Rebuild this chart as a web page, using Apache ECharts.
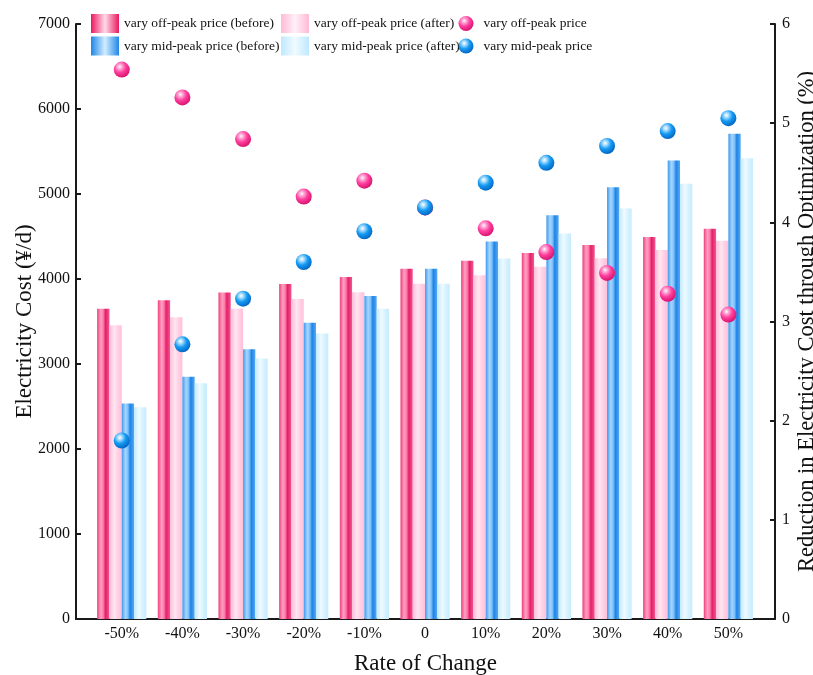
<!DOCTYPE html>
<html>
<head>
<meta charset="utf-8">
<script src="https://cdn.jsdelivr.net/npm/echarts@6/dist/echarts.min.js"></script>
<style>html,body{margin:0;padding:0;background:#fff}#c{width:813px;height:675px}</style>
</head>
<body>
<div id="c"></div>
<script>
var categories = ['-50%','-40%','-30%','-20%','-10%','0','10%','20%','30%','40%','50%'];
var offBefore = [3650,3750,3840,3940,4025,4120,4215,4305,4400,4495,4590];
var offAfter  = [3455,3550,3650,3765,3845,3945,4045,4145,4245,4340,4450];
var midBefore = [2535,2850,3175,3485,3800,4120,4440,4750,5080,5395,5710];
var midAfter  = [2490,2775,3065,3360,3650,3945,4240,4535,4830,5120,5420];
var offReduction = [5.54,5.26,4.84,4.26,4.42,4.15,3.94,3.70,3.49,3.28,3.07];
var midReduction = [1.80,2.77,3.23,3.60,3.91,4.15,4.40,4.60,4.77,4.92,5.05];
var leftTicks = [0,7000,1000];
var rightTicks = [0,6,1];

var NAMES = ['vary off-peak price (before)','vary off-peak price (after)','vary mid-peak price (before)','vary mid-peak price (after)','vary off-peak price','vary mid-peak price'];
var FONT = '"Liberation Serif","Times New Roman",serif';

function lin(stops){
  return {type:'linear',x:0,y:0,x2:1,y2:0,colorStops:stops.map(function(s){return {offset:s[0],color:s[1]};})};
}
function rad(c0,c1,c2){
  return {type:'radial',x:0.38,y:0.32,r:0.68,colorStops:[{offset:0,color:'#ffffff'},{offset:0.18,color:c0},{offset:0.55,color:c1},{offset:1,color:c2}]};
}
var barFill = [
  lin([[0,'#ee3f7c'],[0.3,'#ff9fc2'],[0.5,'#ff7aa8'],[0.68,'#e3206a'],[1,'#f2578f']]),
  lin([[0,'#ffbcd8'],[0.4,'#ffe6f1'],[0.7,'#ffcfe3'],[1,'#ffc0da']]),
  lin([[0,'#3d98f0'],[0.3,'#a6d6ff'],[0.5,'#7cc0fb'],[0.68,'#1e84e6'],[1,'#56a9f2']]),
  lin([[0,'#c4eafe'],[0.4,'#eefaff'],[0.7,'#d6f2ff'],[1,'#c6ebfe']])
];
var legFill = [
  lin([[0,'#e9195e'],[0.5,'#ffdbe9'],[1,'#e9195e']]),
  lin([[0,'#ffb9d7'],[0.5,'#fff0f6'],[1,'#ffb9d7']]),
  lin([[0,'#1f87e8'],[0.5,'#d2edff'],[1,'#1f87e8']]),
  lin([[0,'#bfe8ff'],[0.5,'#f0fbff'],[1,'#bfe8ff']])
];
var pinkBall = rad('#ffb3da','#ff3e9e','#d8156f');
var blueBall = rad('#b5e2ff','#149af3','#0568c4');
var barData = [offBefore, offAfter, midBefore, midAfter];

var series = [];
for (var i = 0; i < 4; i++) {
  series.push({
    name: NAMES[i], type: 'bar', xAxisIndex: 0, yAxisIndex: 0,
    data: barData[i], barWidth: 12.3, barGap: '0%',
    itemStyle: {color: barFill[i]}, z: 2
  });
}
series.push({name: NAMES[4], type:'scatter', xAxisIndex:0, yAxisIndex:1, data: offReduction,
  symbol:'circle', symbolSize:16, itemStyle:{color: pinkBall, opacity: 1}, z: 5});
series.push({name: NAMES[5], type:'scatter', xAxisIndex:0, yAxisIndex:1, data: midReduction,
  symbol:'circle', symbolSize:16, itemStyle:{color: blueBall, opacity: 1}, z: 6});

var txt = {color:'#111', fontFamily: FONT, fontSize: 13.5};
var lineStyle = {color:'#1a1a1a', width: 2};
function plain(v){ return String(v); }

var option = {
  backgroundColor: '#fff',
  animation: false,
  textStyle: {fontFamily: FONT},
  grid: [
    {left: 91.4, right: 813-758.7, top: 24, bottom: 56, outerBoundsMode: 'none', containLabel: false},
    {left: 76, right: 813-775, top: 24, bottom: 56, outerBoundsMode: 'none', containLabel: false}
  ],
  legend: [
    {orient:'vertical', left: 91, top: 14, padding: 0, itemWidth: 28, itemHeight: 19, itemGap: 3.5, textStyle: txt,
     selectedMode:false,
     data:[{name:NAMES[0], icon:'rect', itemStyle:{color:legFill[0]}},{name:NAMES[2], icon:'rect', itemStyle:{color:legFill[2]}}]},
    {orient:'vertical', left: 281, top: 14, padding: 0, itemWidth: 28, itemHeight: 19, itemGap: 3.5, textStyle: txt,
     selectedMode:false,
     data:[{name:NAMES[1], icon:'rect', itemStyle:{color:legFill[1]}},{name:NAMES[3], icon:'rect', itemStyle:{color:legFill[3]}}]},
    {orient:'vertical', left: 458.5, top: 16, padding: 0, itemWidth: 15, itemHeight: 15, itemGap: 7.5,
     textStyle: Object.assign({}, txt, {padding:[0,0,0,5]}),
     selectedMode:false,
     data:[{name:NAMES[4], icon:'circle'},{name:NAMES[5], icon:'circle'}]}
  ],
  xAxis: [
    {type:'category', gridIndex:0, data: categories,
     axisLine:{show:false}, axisTick:{show:false}, splitLine:{show:false},
     axisLabel:{color:'#111', fontFamily: FONT, fontSize: 16, margin: 7}},
    {type:'value', gridIndex:1, min:0, max:1,
     axisLine:{show:true, onZero:false, lineStyle: lineStyle}, axisTick:{show:false}, axisLabel:{show:false}, splitLine:{show:false},
     name:'Rate of Change', nameLocation:'middle', nameGap: 33, nameMoveOverlap: false,
     nameTextStyle:{color:'#111', fontFamily: FONT, fontSize: 23}}
  ],
  yAxis: [
    {type:'value', gridIndex:0, min: leftTicks[0], max: leftTicks[1], interval: leftTicks[2], show:false},
    {type:'value', gridIndex:0, min: rightTicks[0], max: rightTicks[1], interval: rightTicks[2], show:false},
    {type:'value', gridIndex:1, position:'left', min: leftTicks[0], max: leftTicks[1], interval: leftTicks[2],
     axisLine:{show:true, lineStyle: lineStyle}, axisTick:{show:true, inside:true, length:5, lineStyle: lineStyle},
     axisLabel:{color:'#111', fontFamily: FONT, fontSize: 16, margin: 6, formatter: plain}, splitLine:{show:false},
     name:'Electricity Cost (¥/d)', nameLocation:'middle', nameGap: 40, nameMoveOverlap: false,
     nameTextStyle:{color:'#111', fontFamily: FONT, fontSize: 23}},
    {type:'value', gridIndex:1, position:'right', min: rightTicks[0], max: rightTicks[1], interval: rightTicks[2],
     axisLine:{show:true, lineStyle: lineStyle}, axisTick:{show:true, inside:true, length:5, lineStyle: lineStyle},
     axisLabel:{color:'#111', fontFamily: FONT, fontSize: 16, margin: 7, formatter: plain}, splitLine:{show:false},
     name:'Reduction in Electricity Cost through Optimization (%)', nameLocation:'middle', nameGap: 21, nameMoveOverlap: false,
     nameTextStyle:{color:'#111', fontFamily: FONT, fontSize: 22.5}}
  ],
  series: series
};
var chart = echarts.init(document.getElementById('c'), null, {renderer:'canvas'});
chart.setOption(option);
</script>
</body>
</html>
